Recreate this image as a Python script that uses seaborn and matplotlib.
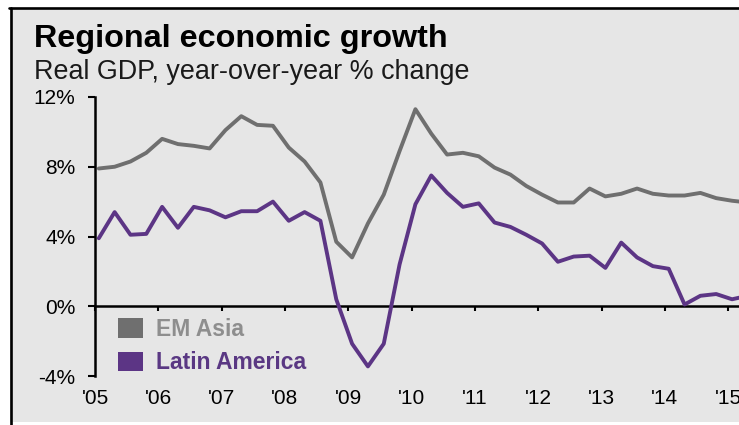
import numpy as np
import pandas as pd
import seaborn as sns
import matplotlib.pyplot as plt
from matplotlib.patches import Rectangle, Patch
from matplotlib.lines import Line2D

# quarterly real GDP growth, % y/y, 2005 Q1 onwards
em_asia = [7.9, 8.0, 8.3, 8.8, 9.6, 9.3, 9.2, 9.05, 10.1, 10.9,
           10.4, 10.35, 9.1, 8.3, 7.1, 3.7, 2.8, 4.75, 6.4, 8.9,
           11.3, 9.9, 8.7, 8.8, 8.6, 7.95, 7.55, 6.9, 6.4, 5.95,
           5.95, 6.75, 6.3, 6.45, 6.75, 6.45, 6.35, 6.35, 6.5, 6.2,
           6.05, 5.95]
latin_america = [3.9, 5.4, 4.1, 4.15, 5.7, 4.5, 5.7, 5.5, 5.1, 5.45,
                 5.45, 6.0, 4.9, 5.4, 4.9, 0.4, -2.15, -3.45, -2.15, 2.4,
                 5.85, 7.5, 6.5, 5.7, 5.9, 4.8, 4.55, 4.1, 3.6, 2.55,
                 2.85, 2.9, 2.2, 3.65, 2.8, 2.3, 2.15, 0.1, 0.6, 0.7,
                 0.4, 0.6]
series_names = ['EM Asia', 'Latin America']
year_ticks = list(range(2005, 2016))
year_labels = ["'05", "'06", "'07", "'08", "'09", "'10", "'11", "'12", "'13", "'14", "'15"]
y_ticks = [-4, 0, 4, 8, 12]
y_labels = ['-4%', '0%', '4%', '8%', '12%']

line_colors = {'EM Asia': '#6f6f6f', 'Latin America': '#5c3585'}
text_colors = {'EM Asia': '#8e8e8e', 'Latin America': '#5a3883'}

# each quarter sits a little to the right of its year tick
x_quarter = 2005.06 + np.arange(len(em_asia)) / 4

df = pd.DataFrame({
    'x': np.concatenate([x_quarter, x_quarter]),
    'growth': em_asia + latin_america,
    'region': [series_names[0]] * len(em_asia) + [series_names[1]] * len(latin_america),
})

sns.set_style('white')
plt.rcParams['font.family'] = ['Liberation Sans', 'DejaVu Sans']

fig = plt.figure(figsize=(7.39, 4.25), dpi=100)
W, H = 739, 425

# grey panel with black top/left frame (behind everything)
fig.patches.append(Rectangle((10 / W, 3 / H), 729 / W, 414 / H, transform=fig.transFigure,
                             facecolor='#e6e6e6', edgecolor='none', zorder=-2))
fig.lines.append(Line2D([9 / W, 1], [417.5 / H, 417.5 / H], transform=fig.transFigure,
                        color='black', lw=1.9, zorder=-1))
fig.lines.append(Line2D([10.5 / W, 10.5 / W], [0, 417.5 / H], transform=fig.transFigure,
                        color='black', lw=1.9, zorder=-1))

fig.text(34 / W, 1 - 47 / H, 'Regional economic growth', fontsize=23.3, fontweight='bold',
         color='black', va='baseline')
fig.text(34 / W, 1 - 79 / H, 'Real GDP, year-over-year % change', fontsize=19.4,
         color='#1a1a1a', va='baseline')

ax = fig.add_axes([95 / W, 49 / H, 644 / W, 279 / H])
ax.set_facecolor('none')
ax.set_zorder(2)

sns.lineplot(data=df, x='x', y='growth', hue='region', palette=line_colors,
             linewidth=2.8, legend=False, ax=ax)

ax.set_xlim(2005, 2015.17)
ax.set_ylim(-4, 12)
ax.set_xlabel('')
ax.set_ylabel('')

for side in ['top', 'right', 'bottom']:
    ax.spines[side].set_visible(False)
ax.spines['left'].set_color('black')
ax.spines['left'].set_linewidth(1.8)

ax.set_yticks(y_ticks)
ax.set_yticklabels(y_labels)
ax.tick_params(axis='y', direction='out', length=5, width=1.5, pad=9,
               labelsize=15, colors='black', left=True)
ax.set_xticks(year_ticks)
ax.set_xticklabels(year_labels)
ax.tick_params(axis='x', length=0, pad=9, labelsize=15, labelcolor='black')

# zero line with the year ticks hanging below it
zero_axis = ax.secondary_xaxis(0.25)
zero_axis.set_xticks(year_ticks)
zero_axis.tick_params(axis='x', direction='out', length=3.5, width=1.5,
                      labelbottom=False, color='black')
zero_axis.spines['bottom'].set_linewidth(1.8)
zero_axis.spines['bottom'].set_color('black')

handles = [Patch(facecolor=line_colors[n], edgecolor='none', label=n) for n in series_names]
leg = ax.legend(handles=handles, loc='upper left', bbox_to_anchor=(118 / W, 1 - 318 / H),
                bbox_transform=fig.transFigure, frameon=False, borderpad=0,
                borderaxespad=0, handlelength=1.08, handleheight=0.95,
                handletextpad=0.6, labelspacing=0.45,
                prop={'size': 16.5, 'weight': 'bold'})
for txt in leg.get_texts():
    txt.set_color(text_colors[txt.get_text()])

fig.savefig('out.png', dpi=100)
